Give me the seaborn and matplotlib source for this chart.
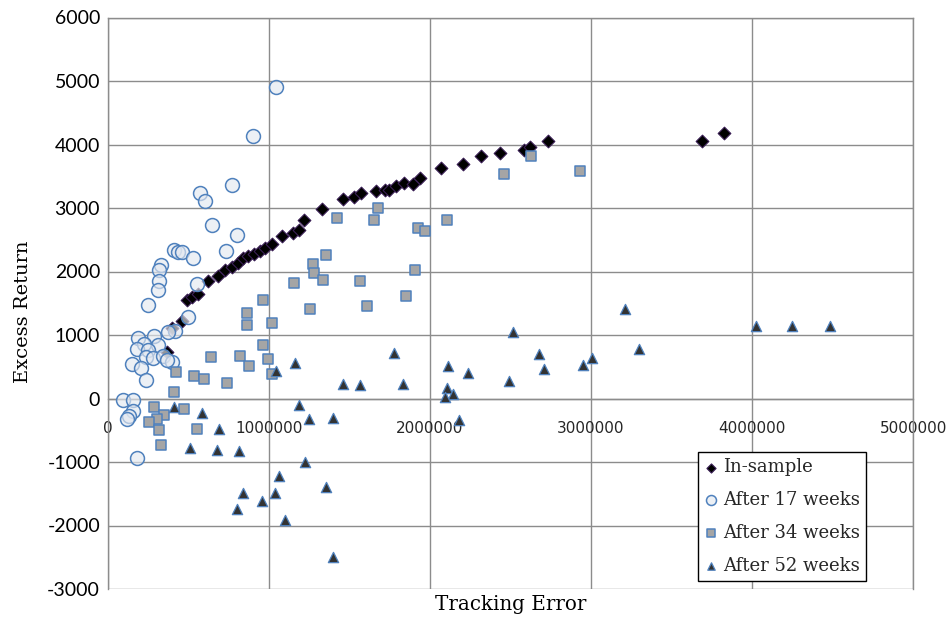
import matplotlib
matplotlib.use("Agg")
import matplotlib.pyplot as plt
import seaborn as sns
import pandas as pd

# Tracking error / excess return for each portfolio set
in_sample_te = [366000, 397000, 459000, 490000, 521000, 562000, 624000, 686000, 728000, 769000,
                810000, 837000, 872000, 908000, 945000, 976000, 1017000, 1079000, 1151000, 1189000,
                1218000, 1328000, 1462000, 1528000, 1571000, 1668000, 1720000, 1745000, 1788000, 1840000,
                1892000, 1937000, 2068000, 2206000, 2318000, 2434000, 2583000, 2620000, 2730000, 3691000,
                3828000]
in_sample_ret = [729, 1118, 1217, 1544, 1596, 1649, 1843, 1937, 2016, 2068,
                 2137, 2210, 2237, 2268, 2320, 2373, 2436, 2552, 2604, 2646,
                 2804, 2988, 3145, 3171, 3234, 3265, 3276, 3276, 3344, 3391,
                 3381, 3476, 3627, 3686, 3816, 3863, 3917, 3958, 4048, 4052,
                 4178]

w17_te = [1044000, 900000, 771000, 573000, 607000, 645000, 800000, 411000, 436000, 459000,
          527000, 737000, 329000, 318000, 320000, 314000, 248000, 557000, 500000, 417000,
          372000, 190000, 289000, 227000, 310000, 180000, 252000, 238000, 283000, 345000,
          397000, 366000, 153000, 207000, 236000, 98000, 160000, 157000, 135000, 117000,
          180000]
w17_ret = [4903, 4127, 3366, 3240, 3103, 2725, 2567, 2342, 2307, 2300,
           2216, 2323, 2103, 2027, 1843, 1701, 1465, 1806, 1276, 1060,
           1044, 956, 992, 862, 846, 783, 767, 650, 641, 677,
           572, 599, 547, 477, 284, -16, -31, -189, -268, -315,
           -940]

w34_te = [2630000, 2460000, 2933000, 1680000, 1652000, 1421000, 2108000, 1923000, 1968000, 1356000,
          1275000, 1281000, 1334000, 1158000, 1567000, 1906000, 1850000, 965000, 1255000, 1607000,
          862000, 862000, 1022000, 965000, 996000, 1017000, 643000, 821000, 878000, 534000,
          596000, 740000, 422000, 413000, 473000, 287000, 351000, 304000, 258000, 320000,
          557000, 329000]
w34_ret = [3812, 3539, 3580, 2997, 2815, 2848, 2815, 2682, 2630, 2260,
           2122, 1973, 1863, 1816, 1843, 2024, 1611, 1551, 1410, 1457,
           1343, 1150, 1186, 846, 625, 378, 657, 662, 504, 347,
           310, 247, 414, 99, -162, -126, -252, -320, -373, -493,
           -477, -729]

w52_te = [413000, 583000, 692000, 511000, 681000, 816000, 1046000, 1162000, 1189000, 1251000,
          1398000, 1462000, 1565000, 1778000, 1834000, 1225000, 1065000, 1354000, 837000, 1038000,
          955000, 800000, 1102000, 1396000, 2109000, 2103000, 2144000, 2092000, 2235000, 2181000,
          2493000, 2516000, 2679000, 2707000, 2949000, 3003000, 3212000, 3297000, 4026000, 4249000,
          4483000]
w52_ret = [-137, -232, -477, -783, -806, -819, 430, 556, -95, -320,
           -310, 232, 216, 713, 232, -1003, -1224, -1397, -1485, -1492,
           -1622, -1737, -1906, -2500, 504, 162, 74, 31, 398, -335,
           272, 1047, 693, 457, 531, 635, 1413, 772, 1134, 1134,
           1134]

series_names = ["In-sample", "After 17 weeks", "After 34 weeks", "After 52 weeks"]
x_ticks = [0, 1000000, 2000000, 3000000, 4000000, 5000000]
y_ticks = [-3000, -2000, -1000, 0, 1000, 2000, 3000, 4000, 5000, 6000]

sns.set_theme(style="white")
serif = ["DejaVu Serif"]
sans = ["Lato", "DejaVu Sans"]

fig = plt.figure(figsize=(9.52, 6.17), dpi=100)
ax = fig.add_axes([107.7 / 952, 1 - 589 / 617, (913.3 - 107.7) / 952, (589 - 17.5) / 617])

frames = {
    series_names[0]: pd.DataFrame({"te": in_sample_te, "ret": in_sample_ret}),
    series_names[1]: pd.DataFrame({"te": w17_te, "ret": w17_ret}),
    series_names[2]: pd.DataFrame({"te": w34_te, "ret": w34_ret}),
    series_names[3]: pd.DataFrame({"te": w52_te, "ret": w52_ret}),
}
styles = {
    series_names[0]: dict(marker="D", s=42, color="#000000", edgecolor="#3a1f55", linewidth=0.8),
    series_names[1]: dict(marker="o", s=100, color=(0.89, 0.91, 0.94, 0.65), edgecolor="#4f81bd", linewidth=1.1),
    series_names[2]: dict(marker="s", s=52, color="#a5a5a5", edgecolor="#4f81bd", linewidth=1.1),
    series_names[3]: dict(marker="^", s=55, color="#333333", edgecolor="#4f81bd", linewidth=0.9),
}

for name in series_names:
    sns.scatterplot(data=frames[name], x="te", y="ret", label=name, ax=ax, zorder=3, **styles[name])

ax.set_xlim(0, 5000000)
ax.set_ylim(-3000, 6000)
ax.set_xticks(x_ticks)
ax.set_xticklabels([str(v) for v in x_ticks], fontfamily=sans, fontsize=14.5, color="black")
ax.set_yticks(y_ticks)
ax.set_yticklabels([str(v) for v in y_ticks], fontfamily=sans, fontsize=14, color="black")

grid_col = "#8c8c8c"
ax.grid(True, color=grid_col, linewidth=1.0)
ax.set_axisbelow(True)
for side in ["left", "right", "top", "bottom"]:
    ax.spines[side].set_color(grid_col)
    ax.spines[side].set_linewidth(1.0)
ax.spines["bottom"].set_position(("data", 0))
ax.tick_params(axis="x", length=0, pad=16)
ax.tick_params(axis="y", length=0, pad=5.5)

ax.set_xlabel("Tracking Error", fontfamily=serif, fontsize=14.3, color="black")
ax.xaxis.set_label_coords(0.5, -0.011)
ax.xaxis.label.set_va("top")
ax.set_ylabel("Excess Return", fontfamily=serif, fontsize=14, color="black")
ax.yaxis.set_label_coords(-0.094, 0.486)

leg = ax.legend(loc="upper left", bbox_to_anchor=(698 / 952, 1 - 452 / 617),
                bbox_transform=fig.transFigure, borderaxespad=0, frameon=True,
                fancybox=False, shadow=False, framealpha=1, edgecolor="black",
                prop={"family": serif, "size": 13}, markerscale=0.72,
                handlelength=0.7, handletextpad=0.35, labelspacing=0.82, borderpad=0.35)
leg.get_frame().set_linewidth(1.0)

fig.savefig("out.png", dpi=100)
